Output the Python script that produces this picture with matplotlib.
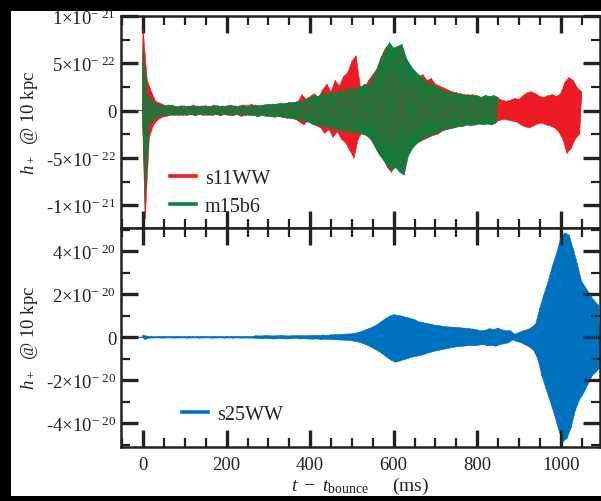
import numpy as np
import matplotlib
matplotlib.use("Agg")
import matplotlib.pyplot as plt
from matplotlib.patches import Rectangle
from matplotlib.ticker import MultipleLocator, FixedLocator, FixedFormatter

plt.rcParams['font.family'] = ['Liberation Serif', 'DejaVu Serif']
plt.rcParams['mathtext.fontset'] = 'custom'
plt.rcParams['mathtext.rm'] = 'Liberation Serif'
plt.rcParams['mathtext.it'] = 'Liberation Serif:italic'
plt.rcParams['mathtext.bf'] = 'Liberation Serif:bold'

# ---------------- data ----------------
# upper extremes every 10 ms from t=0, lower extremes every 10 ms from t=5
# top panel in units of 1e-22, bottom panel in units of 1e-20
s11_hi = [8.6, 3.2, 2.0, 1.0, 0.8, 0.6, 0.5, 0.6, 0.4, 0.5,
          0.5, 0.4, 0.6, 0.4, 0.5, 0.5, 0.4, 0.6, 0.5, 0.4,
          0.5, 0.6, 0.4, 0.5, 0.6, 0.5, 0.7, 0.4, 0.5, 0.6,
          0.5, 0.7, 0.6, 0.5, 0.8, 0.7, 0.9, 0.8, 1.7, 1.2,
          1.5, 1.8, 1.4, 2.2, 2.8, 2.0, 3.2, 2.6, 3.6, 4.0,
          5.2, 5.8, 2.6, 2.4, 3.2, 3.8, 4.4, 5.6, 6.6, 7.0,
          6.0, 6.6, 6.9, 5.2, 4.6, 4.2, 3.6, 3.8, 3.2, 3.4,
          2.8, 2.6, 2.4, 2.2, 2.0, 1.9, 1.8, 1.7, 1.6, 1.7,
          1.5, 1.4, 1.6, 1.4, 1.5, 1.3, 1.1, 1.0, 1.1, 1.3,
          1.2, 1.6, 1.9, 2.0, 1.8, 1.5, 1.4, 1.6, 1.7, 1.5,
          1.8, 3.0, 3.5, 3.2, 2.4, 2.0]
s11_lo = [-11.4, -2.8, -1.5, -1.0, -0.7, -0.6, -0.5, -0.4, -0.5, -0.4,
          -0.5, -0.4, -0.5, -0.4, -0.5, -0.4, -0.5, -0.4, -0.5, -0.4,
          -0.5, -0.5, -0.4, -0.6, -0.5, -0.4, -0.5, -0.6, -0.4, -0.5,
          -0.6, -0.5, -0.6, -0.7, -0.6, -0.8, -0.9, -1.2, -1.5, -1.0,
          -1.4, -1.6, -1.8, -2.4, -2.0, -2.8, -2.2, -3.0, -3.4, -4.2,
          -5.0, -3.0, -2.2, -2.6, -3.0, -3.6, -4.2, -5.0, -6.0, -6.5,
          -5.6, -6.2, -6.4, -4.4, -3.8, -3.4, -3.2, -3.0, -2.8, -2.6,
          -2.5, -2.2, -2.0, -1.9, -1.8, -1.6, -1.7, -1.5, -1.4, -1.5,
          -1.3, -1.4, -1.2, -1.3, -1.2, -1.0, -0.9, -1.0, -1.1, -1.2,
          -1.5, -1.7, -1.8, -1.6, -1.4, -1.3, -1.5, -1.6, -1.8, -2.2,
          -3.0, -4.5, -4.0, -3.0, -2.5]

m15_hi = [6.6, 1.8, 1.2, 0.8, 0.6, 0.5, 0.6, 0.5, 0.4, 0.5,
          0.4, 0.5, 0.4, 0.5, 0.4, 0.5, 0.4, 0.5, 0.4, 0.5,
          0.4, 0.5, 0.5, 0.4, 0.5, 0.4, 0.5, 0.6, 0.5, 0.6,
          0.7, 0.6, 0.7, 0.8, 0.7, 0.9, 0.8, 1.0, 0.9, 1.2,
          1.4, 1.6, 1.5, 1.9, 1.7, 2.0, 1.8, 2.2, 1.9, 2.4,
          2.3, 2.5, 2.4, 2.8, 2.6, 3.6, 4.4, 5.6, 6.4, 7.2,
          6.6, 6.8, 7.0, 5.6, 4.8, 4.2, 3.8, 3.4, 3.0, 2.9,
          2.6, 2.3, 2.1, 2.0, 1.9, 1.8, 1.7, 1.6, 1.7, 1.5,
          1.6, 1.4, 1.6, 1.5, 1.6, 1.4]
m15_lo = [-9.3, -1.6, -1.0, -0.7, -0.6, -0.5, -0.4, -0.5, -0.4, -0.5,
          -0.4, -0.4, -0.5, -0.4, -0.4, -0.5, -0.4, -0.4, -0.5, -0.4,
          -0.4, -0.5, -0.4, -0.5, -0.4, -0.5, -0.5, -0.6, -0.5, -0.6,
          -0.6, -0.7, -0.6, -0.7, -0.8, -0.8, -0.9, -1.0, -1.1, -1.2,
          -1.4, -1.5, -1.6, -1.7, -1.8, -1.9, -2.0, -2.1, -2.2, -2.3,
          -2.4, -2.3, -2.5, -2.6, -3.0, -3.8, -4.6, -5.2, -5.8, -6.3,
          -6.0, -6.5, -6.8, -4.8, -4.0, -3.5, -3.2, -2.9, -2.7, -2.5,
          -2.3, -2.1, -2.0, -1.9, -1.8, -1.7, -1.6, -1.5, -1.6, -1.5,
          -1.4, -1.5, -1.4, -1.5, -1.3]

s25_hi = [0.10, 0.05, 0.035, 0.03, 0.035, 0.04, 0.03, 0.035, 0.04, 0.03,
          0.035, 0.04, 0.03, 0.035, 0.04, 0.035, 0.03, 0.04, 0.035, 0.03,
          0.04, 0.035, 0.04, 0.035, 0.04, 0.04, 0.035, 0.07, 0.06, 0.07,
          0.08, 0.06, 0.07, 0.08, 0.07, 0.06, 0.08, 0.07, 0.08, 0.07,
          0.08, 0.09, 0.08, 0.10, 0.09, 0.11, 0.12, 0.12, 0.14, 0.15,
          0.16, 0.20, 0.25, 0.32, 0.40, 0.48, 0.58, 0.72, 0.86, 0.98,
          1.05, 1.02, 0.98, 0.92, 0.88, 0.82, 0.72, 0.68, 0.64, 0.60,
          0.56, 0.54, 0.50, 0.48, 0.47, 0.46, 0.44, 0.42, 0.40, 0.38,
          0.34, 0.30, 0.33, 0.40, 0.36, 0.42, 0.34, 0.30, 0.30, 0.14,
          0.22, 0.30, 0.35, 0.45, 0.62, 1.35, 2.0, 2.6, 3.3, 3.9,
          4.6, 4.85, 4.75, 4.1, 3.4, 2.6, 2.3, 2.0, 1.7, 1.5]
s25_lo = [-0.10, -0.04, -0.035, -0.03, -0.04, -0.035, -0.03, -0.04, -0.035, -0.03,
          -0.04, -0.035, -0.03, -0.04, -0.035, -0.03, -0.04, -0.035, -0.03, -0.04,
          -0.035, -0.04, -0.03, -0.04, -0.035, -0.04, -0.04, -0.06, -0.07, -0.06,
          -0.07, -0.08, -0.06, -0.07, -0.08, -0.07, -0.06, -0.08, -0.07, -0.08,
          -0.09, -0.08, -0.10, -0.09, -0.10, -0.11, -0.12, -0.13, -0.14, -0.15,
          -0.18, -0.22, -0.28, -0.36, -0.45, -0.55, -0.66, -0.80, -0.95, -1.08,
          -1.16, -1.10, -1.04, -0.98, -0.92, -0.88, -0.84, -0.78, -0.72, -0.66,
          -0.62, -0.58, -0.54, -0.50, -0.46, -0.44, -0.42, -0.40, -0.38, -0.40,
          -0.36, -0.34, -0.40, -0.38, -0.42, -0.34, -0.30, -0.26, -0.12, -0.20,
          -0.25, -0.35, -0.45, -0.60, -1.00, -1.80, -2.4, -3.0, -3.6, -4.3,
          -4.87, -4.7, -4.2, -3.4, -2.9, -2.6, -2.2, -1.8, -1.6, -1.4]

# signal is flat (zero) before bounce
pre_t = [-15.0, -2.0]
pre_v = [0.0, 0.0]

labels_top = ['s11WW', 'm15b6']
label_bot = 's25WW'
colors = {'s11WW': '#ED1C24', 'm15b6': '#0B7F3D', 's25WW': '#0071BE'}


def draw_wave(ax, hi, lo, scale, color, label):
    hi = np.asarray(hi) * scale
    lo = np.asarray(lo) * scale
    t_hi = np.arange(len(hi)) * 10.0
    t_lo = np.arange(len(lo)) * 10.0 + 5.0
    # filled band between the upper and lower extremes
    ax.fill(np.concatenate([pre_t, t_hi, t_lo[::-1], pre_t[::-1]]),
            np.concatenate([pre_v, hi, lo[::-1], pre_v[::-1]]),
            facecolor=color, edgecolor=color, lw=0.4)
    # oscillation trace joining the extremes
    t = np.empty(len(hi) + len(lo))
    v = np.empty(len(hi) + len(lo))
    t[0::2], v[0::2] = t_hi, hi
    t[1::2], v[1::2] = t_lo, lo
    ax.plot(np.concatenate([pre_t, t]), np.concatenate([pre_v, v]),
            color=color, lw=0.5, label=label)


W, H = 601, 502
fig = plt.figure(figsize=(W / 100, H / 100), dpi=100)
fig.patch.set_facecolor('black')
fig.patches.append(Rectangle((11 / W, 5 / H), 1 - 11 / W, (497 - 12) / H,
                             transform=fig.transFigure, facecolor='white',
                             edgecolor='none', zorder=-10))

left = 121 / W
width = 479 / W
y_mid = 1 - 228.5 / H
ax1 = fig.add_axes([left, y_mid, width, (228.5 - 17) / H])
ax2 = fig.add_axes([left, 1 - 448 / H, width, (448 - 228.5) / H])

draw_wave(ax1, s11_hi, s11_lo, 1e-22, colors['s11WW'], labels_top[0])
draw_wave(ax1, m15_hi, m15_lo, 1e-22, colors['m15b6'], labels_top[1])
draw_wave(ax2, s25_hi, s25_lo, 1e-20, colors['s25WW'], label_bot)

dark = '#222222'
for ax in (ax1, ax2):
    ax.set_xlim(-53, 1094)
    ax.xaxis.set_major_locator(MultipleLocator(200))
    ax.xaxis.set_minor_locator(MultipleLocator(50))
    ax.tick_params(which='both', direction='in', top=True, right=True,
                   labelsize=13.5, colors=dark, labelcolor=dark)
    ax.tick_params(which='major', length=12, width=2.4)
    ax.tick_params(which='minor', length=6.5, width=1.6)
    ax.tick_params(axis='x', which='major', pad=6.5)
    for s in ax.spines.values():
        s.set_linewidth(1.8)
        s.set_color(dark)

ax1.set_ylim(-1.233e-21, 1.0e-21)
ax1.yaxis.set_major_locator(FixedLocator([-1e-21, -5e-22, 0, 5e-22, 1e-21]))
ax1.yaxis.set_major_formatter(FixedFormatter(
    ['-1×10$^{-\\ 21}$', '-5×10$^{-\\ 22}$', '0', '5×10$^{-\\ 22}$', '1×10$^{-\\ 21}$']))
ax1.yaxis.set_minor_locator(MultipleLocator(2.5e-22))
ax1.tick_params(axis='x', labelbottom=False)

ax2.set_ylim(-5.1e-20, 5.1e-20)
ax2.yaxis.set_major_locator(FixedLocator([-4e-20, -2e-20, 0, 2e-20, 4e-20]))
ax2.yaxis.set_major_formatter(FixedFormatter(
    ['-4×10$^{-\\ 20}$', '-2×10$^{-\\ 20}$', '0', '2×10$^{-\\ 20}$', '4×10$^{-\\ 20}$']))
ax2.yaxis.set_minor_locator(MultipleLocator(1e-20))

for ax in (ax1, ax2):
    ax.set_ylabel(r'$h_+$  @ 10 kpc', fontsize=13.5, color=dark)
    ax.yaxis.set_label_coords(-0.17, 0.5)
ax2.set_xlabel(r'$t\ -\ t_{\rm bounce}$     (ms)', fontsize=14, color=dark, labelpad=1.5)

leg_kw = dict(frameon=False, fontsize=14.5, handlelength=1.3, handletextpad=0.45,
              labelspacing=0.45, borderaxespad=0.0)
lg1 = ax1.legend(loc='lower left', bbox_to_anchor=(0.085, 0.015), **leg_kw)
lg2 = ax2.legend(loc='lower left', bbox_to_anchor=(0.11, 0.07), **leg_kw)
for lg in (lg1, lg2):
    for h in lg.get_lines():
        h.set_linewidth(2.6)
    for tx in lg.get_texts():
        tx.set_color(dark)

fig.savefig('out.png', dpi=100, facecolor=fig.get_facecolor())
